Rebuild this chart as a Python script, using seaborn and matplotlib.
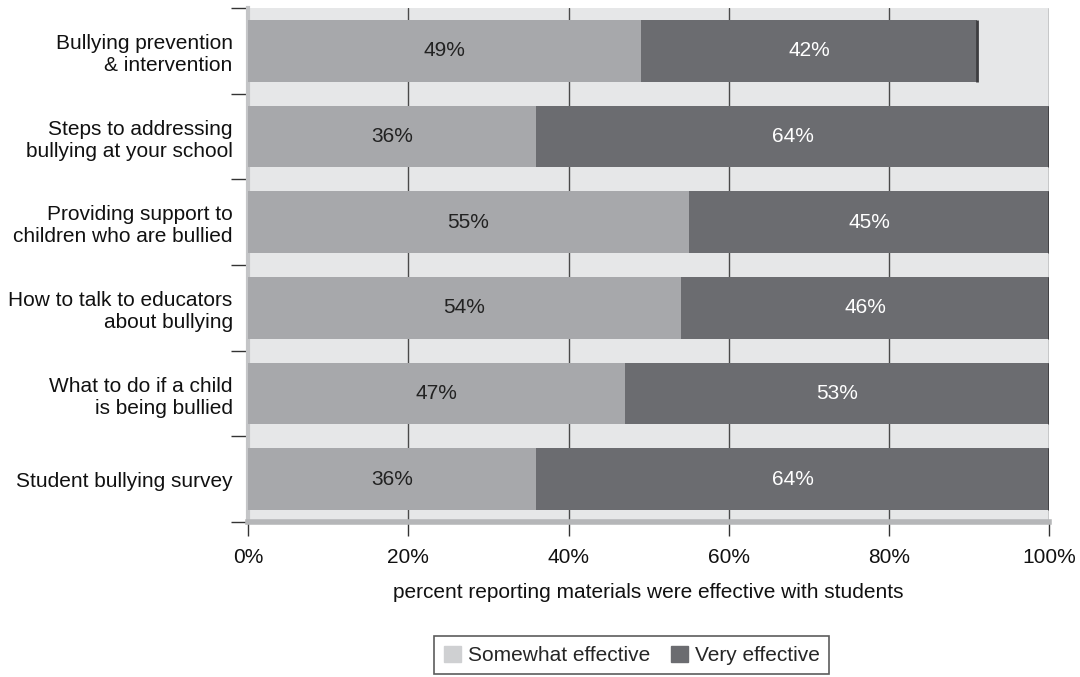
import numpy as np
import pandas as pd
import matplotlib.pyplot as plt
import seaborn as sns
from matplotlib.patches import Patch

categories = ["Bullying prevention\n& intervention",
              "Steps to addressing\nbullying at your school",
              "Providing support to\nchildren who are bullied",
              "How to talk to educators\nabout bullying",
              "What to do if a child\nis being bullied",
              "Student bullying survey"]
somewhat = [49, 36, 55, 54, 47, 36]
very = [42, 64, 45, 46, 53, 64]
x_ticks = [0, 20, 40, 60, 80, 100]

light = "#a7a8ab"
dark = "#6b6c70"
bg = "#e6e7e8"

df = pd.DataFrame({"cat": categories, "somewhat": somewhat, "very": very})
df["total"] = df["somewhat"] + df["very"]

sns.set_style("white")
plt.rcParams["font.family"] = ["Liberation Sans", "DejaVu Sans"]

fig = plt.figure(figsize=(10.8, 6.77), dpi=100)
ax = fig.add_axes([0.2296, 0.229, 0.742, 0.759])
ax.set_facecolor(bg)

sns.barplot(data=df, y="cat", x="total", color=dark, orient="h", width=0.72,
            saturation=1, ax=ax, zorder=3, linewidth=0)
sns.barplot(data=df, y="cat", x="somewhat", color=light, orient="h", width=0.72,
            saturation=1, ax=ax, zorder=4, linewidth=0)

# right shadow edge of each bar
for i, t in enumerate(df["total"]):
    ax.plot([t, t], [i - 0.36, i + 0.36], color="#3d3d40", lw=2, zorder=5,
            solid_capstyle="butt")

fs = 15
for i, (s, v) in enumerate(zip(somewhat, very)):
    ax.text(s / 2, i, f"{s}%", ha="center", va="center", fontsize=fs,
            color="#222222", zorder=6)
    ax.text(s + v / 2, i, f"{v}%", ha="center", va="center", fontsize=fs,
            color="white", zorder=6)

ax.set_xlim(0, 100)
ax.set_ylim(len(categories) - 0.5, -0.5)
ax.set_xticks(x_ticks)
ax.set_xticklabels([f"{t}%" for t in x_ticks], fontsize=fs, color="#111111")
ax.xaxis.grid(True, color="#4a4a4a", lw=1, zorder=1)
ax.set_axisbelow(True)

ax.set_yticks(range(len(categories)))
ax.set_yticklabels(categories, fontsize=fs, color="#111111")
ax.set_yticks(np.arange(-0.5, len(categories), 1), minor=True)
ax.tick_params(axis="y", which="both", left=True)
ax.tick_params(axis="x", which="both", bottom=True)
ax.tick_params(axis="y", which="major", length=0, pad=11)
ax.tick_params(axis="y", which="minor", length=12, width=1, color="#333333")
ax.tick_params(axis="x", which="major", length=10, width=1, color="#333333", pad=9)

ax.set_xlabel("percent reporting materials were effective with students",
              fontsize=fs, labelpad=11, color="#111111")
ax.set_ylabel("")

for s in ["top", "right"]:
    ax.spines[s].set_visible(False)
ax.spines["left"].set_color("#c4c5c7")
ax.spines["left"].set_linewidth(3)
ax.spines["bottom"].set_color("#b5b6b8")
ax.spines["bottom"].set_linewidth(4)

handles = [Patch(color="#cfd0d2", label="Somewhat effective"),
           Patch(color=dark, label="Very effective")]
leg = fig.legend(handles=handles, loc="center", bbox_to_anchor=(0.585, 0.032),
                 ncol=2, fontsize=fs, frameon=True, fancybox=False,
                 edgecolor="#333333", handlelength=0.8, handleheight=0.8,
                 handletextpad=0.35, columnspacing=1.0, borderpad=0.45)
leg.get_frame().set_linewidth(1.2)

fig.savefig("out.png", dpi=100)
